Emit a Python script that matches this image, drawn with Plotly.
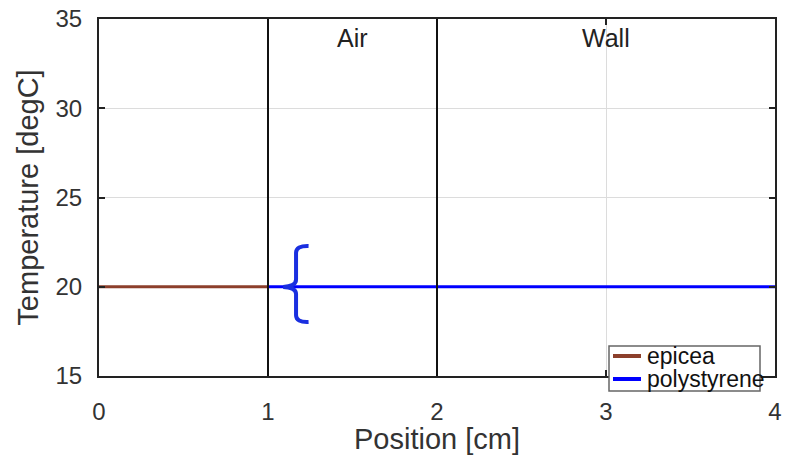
import plotly.graph_objects as go

# ---- data ----
epicea_x = [0, 1]
epicea_T = [20, 20]
poly_x = [1, 2, 3, 4]
poly_T = [20, 20, 20, 20]
boundaries = [1, 2]
region_labels = ["Air", "Wall"]
region_label_x = [1.5, 3.0]
x_ticks = [0, 1, 2, 3, 4]
y_ticks = [15, 20, 25, 30, 35]
series_names = ["epicea", "polystyrene"]
series_colors = ["#8c3f2b", "#0000ff"]

FONT = "Liberation Sans, Arial, sans-serif"

fig = go.Figure()
fig.add_trace(go.Scatter(x=epicea_x, y=epicea_T, mode="lines", name=series_names[0],
                         line=dict(color=series_colors[0], width=3), showlegend=False))
fig.add_trace(go.Scatter(x=poly_x, y=poly_T, mode="lines", name=series_names[1],
                         line=dict(color=series_colors[1], width=3), showlegend=False))

for b in boundaries:
    fig.add_vline(x=b, line=dict(color="#111111", width=2), layer="above")

for lab, lx in zip(region_labels, region_label_x):
    fig.add_annotation(x=lx, y=33.95, text=lab, showarrow=False,
                       font=dict(family=FONT, size=25, color="#222222"),
                       xanchor="center", yanchor="middle")

# hand-drawn curly brace annotation
fig.add_shape(type="path",
              path=("M 1.24 22.28 Q 1.166 22.3 1.166 21.9 L 1.166 20.4 "
                    "Q 1.166 20.02 1.09 19.99 Q 1.166 19.96 1.166 19.6 "
                    "L 1.166 18.4 Q 1.166 18.0 1.24 18.03"),
              line=dict(color="#1a2fe0", width=4), layer="above")

# legend box (drawn manually to match the compact MATLAB-style legend)
PW, PH, L0, B0 = 676.0, 357.0, 99.0, 376.0
def px(xp):
    return (xp - L0) / PW
def py(yp):
    return (B0 - yp) / PH

fig.add_shape(type="rect", xref="paper", yref="paper",
              x0=px(609), x1=px(760), y0=py(391), y1=py(346),
              line=dict(color="#666666", width=1.5), fillcolor="white", layer="above")
for i, (nm, col) in enumerate(zip(series_names, series_colors)):
    yrow = 356 + 23 * i
    fig.add_shape(type="line", xref="paper", yref="paper",
                  x0=px(613), x1=px(641), y0=py(yrow), y1=py(yrow),
                  line=dict(color=col, width=4), layer="above")
    fig.add_annotation(xref="paper", yref="paper", x=px(645), y=py(yrow), text=nm,
                       showarrow=False, xanchor="left", yanchor="middle",
                       font=dict(family=FONT, size=23, color="#111111"))

axis_common = dict(showline=True, linecolor="#222222", linewidth=2, mirror="ticks",
                   ticks="inside", ticklen=6, tickwidth=2, tickcolor="#222222",
                   showgrid=True, gridcolor="#dcdcdc", gridwidth=1, zeroline=False,
                   automargin=False,
                   tickfont=dict(family=FONT, size=24, color="#333333"))

fig.update_xaxes(range=[0, 4], tickvals=x_ticks, ticklabelstandoff=13,
                 title=dict(text="Position [cm]", font=dict(family=FONT, size=29, color="#333333"),
                            standoff=0),
                 **axis_common)
fig.update_yaxes(range=[15, 35], tickvals=y_ticks, ticklabelstandoff=10,
                 title=dict(text="Temperature [degC]", font=dict(family=FONT, size=29, color="#333333"),
                            standoff=8),
                 **axis_common)

fig.update_layout(
    width=786, height=455,
    margin=dict(l=99, r=11, t=19, b=79),
    plot_bgcolor="white", paper_bgcolor="white",
    showlegend=False,
)

fig.write_html("out.html", config={"displayModeBar": False},
               post_script="document.body.style.margin='0';document.body.style.overflow='hidden';")
